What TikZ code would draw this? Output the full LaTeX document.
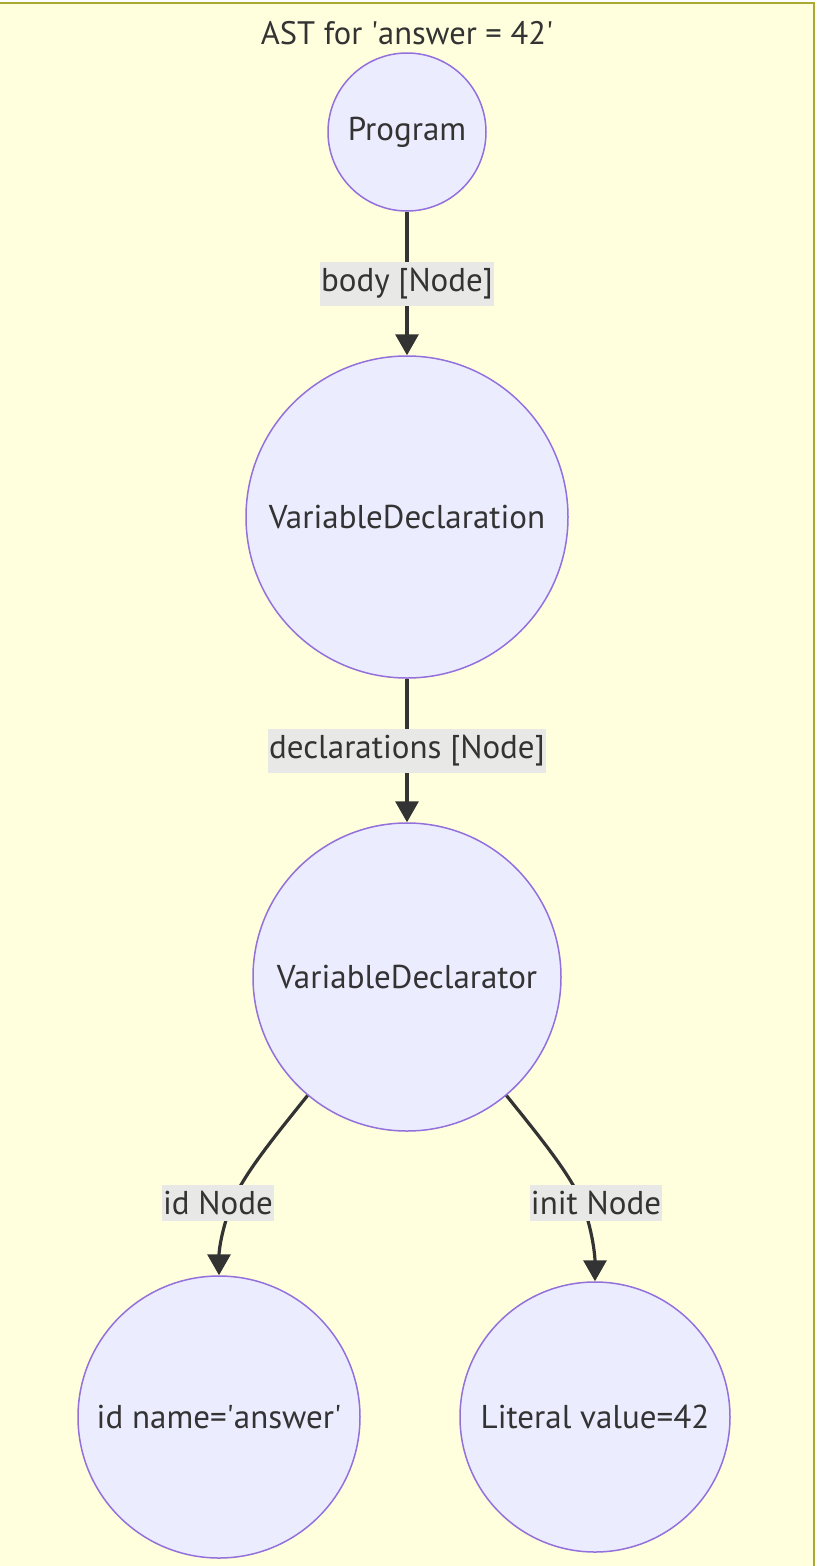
\documentclass[tikz,border=0pt]{standalone}
\usepackage{fontspec}
\setmainfont{PT Sans}
\usetikzlibrary{arrows.meta}
\definecolor{bgyel}{HTML}{FFFFDE}
\definecolor{bgbord}{HTML}{AAAA33}
\definecolor{nfill}{HTML}{ECECFF}
\definecolor{nbord}{HTML}{9370DB}
\definecolor{ink}{HTML}{333333}
\definecolor{lblbg}{HTML}{E8E8E6}
\begin{document}
\begin{tikzpicture}[x=1pt,y=-1pt,
  astnode/.style={circle,draw=nbord,fill=nfill,line width=1.5pt,inner sep=0pt,text=ink,font=\fontsize{33}{38}\selectfont},
  edgelbl/.style={fill=lblbg,text=ink,inner xsep=1pt,inner ysep=6pt,font=\fontsize{33}{38}\selectfont},
  conn/.style={draw=ink,line width=3.2pt,-{Triangle[length=21pt,width=23pt]}}]
\useasboundingbox (0,0) rectangle (818,1566);
\begin{scope}
\clip (0,0) rectangle (818,1566);
\draw[fill=bgyel,draw=bgbord,line width=1.6pt] (-3,3) rectangle (814,1575);
\end{scope}
\node[text=ink,font=\fontsize{32.5}{38}\selectfont] (title) at (407,33) {AST for \textquotesingle answer = 42\textquotesingle};
\node[astnode,minimum size=158pt] (prog) at (407,132) {Program};
\node[astnode,minimum size=322pt] (vdecl) at (407,517) {VariableDeclaration};
\node[astnode,minimum size=308pt] (vdtor) at (407,977) {VariableDeclarator};
\node[astnode,minimum size=282pt] (idn) at (219,1417) {id name=\textquotesingle answer\textquotesingle};
\node[astnode,minimum size=270pt] (lit) at (595,1417) {Literal value=42};
\draw[conn] (prog.south) -- (vdecl.north);
\draw[conn] (vdecl.south) -- (vdtor.north);
\coordinate (lm) at (232,1203);
\coordinate (rm) at (582,1203);
\draw[conn] (vdtor.230) .. controls (275,1136) and (243,1175) .. (lm) .. controls (222,1228) and (219,1250) .. (idn.north);
\draw[conn] (vdtor.310) .. controls (539,1136) and (571,1175) .. (rm) .. controls (592,1228) and (595,1255) .. (lit.north);
\node[edgelbl] (l1) at (407,284) {body [Node]};
\node[edgelbl] (l2) at (407,751) {declarations [Node]};
\node[edgelbl] (l3) at (218,1203) {id Node};
\node[edgelbl] (l4) at (596,1203) {init Node};
\end{tikzpicture}
\end{document}
